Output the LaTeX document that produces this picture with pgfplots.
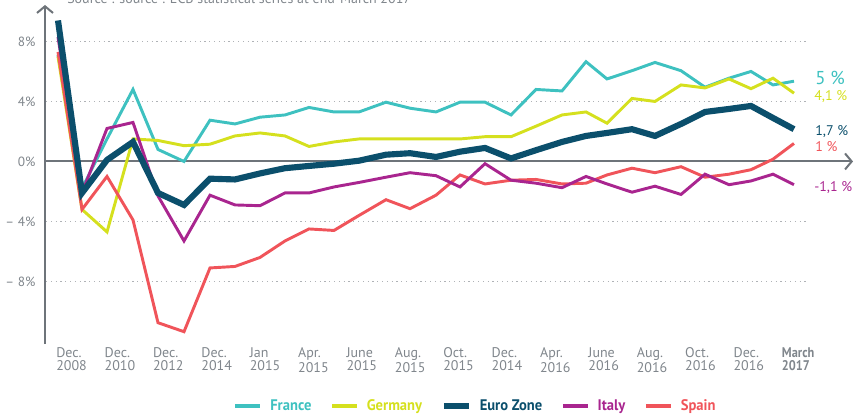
\documentclass[border=0pt]{standalone}
\usepackage{pgfplots}
\pgfplotsset{compat=1.18}
\usepackage{pgfplotstable}
\usetikzlibrary{arrows.meta}
\usepackage{fontspec}
\setmainfont{PT Sans}
\newfontfamily\cond{PT Sans}[FakeStretch=0.88]
\newfontfamily\legf{PT Sans}[FakeStretch=0.95]
\definecolor{cFr}{RGB}{62,193,192}
\definecolor{cDe}{RGB}{213,224,30}
\definecolor{cEz}{RGB}{11,79,108}
\definecolor{cIt}{RGB}{169,37,143}
\definecolor{cEs}{RGB}{240,84,90}
\definecolor{cAx}{RGB}{110,116,122}
\definecolor{cTx}{RGB}{128,134,140}
\definecolor{cGr}{RGB}{175,178,182}
\definecolor{cMa}{RGB}{100,106,112}

\pgfplotstableread{
x   fr    de    ez    it    es
58  7.1   7.0   9.4   8.3   7.3
82  -1.8  -3.2  -2.1  -2.1  -3.2
107 1.5   -4.7  0.1   2.2   -1.0
133 4.8   1.5   1.3   2.6   -3.9
158 0.8   1.4   -2.1  -2.3  -10.75
184 0.0   1.05  -2.9  -5.3  -11.35
210 2.75  1.15  -1.15 -2.25 -7.1
235 2.5   1.7   -1.2  -2.9  -7.0
260 2.95  1.9   -0.8  -2.95 -6.4
285 3.1   1.7   -0.45 -2.1  -5.3
309 3.6   1.0   -0.3  -2.1  -4.5
334 3.3   1.3   -0.15 -1.7  -4.6
359 3.3   1.5   0.05  -1.4  -3.6
386 3.95  1.5   0.45  -1.05 -2.55
410 3.55  1.5   0.55  -0.75 -3.15
436 3.3   1.5   0.3   -0.95 -2.25
460 3.95  1.5   0.65  -1.7  -0.9
485 3.95  1.65  0.9   -0.15 -1.5
511 3.1   1.65  0.2   -1.25 -1.25
536 4.8   2.35  0.75  -1.45 -1.2
562 4.7   3.1   1.3   -1.75 -1.5
586 6.65  3.3   1.7   -1.0  -1.45
607 5.5   2.55  1.9   -1.5  -0.9
632 6.05  4.2   2.15  -2.05 -0.45
655 6.6   4.0   1.7   -1.65 -0.75
681 6.05  5.1   2.5   -2.2  -0.35
705 4.95  4.9   3.3   -0.85 -1.05
729 5.55  5.5   3.5   -1.55 -0.85
751 6.0   4.85  3.7   -1.3  -0.55
773 5.1   5.55  2.9   -0.85 0.15
794 5.35  4.55  2.15  -1.55 1.2
}\datatable

\begin{document}
\begin{tikzpicture}
\useasboundingbox (0,0) rectangle (645pt,310.5pt);
\node[anchor=base west, inner sep=0pt, text=cTx, font=\fontsize{10.5}{12}\selectfont] at (50.25pt,307.5pt) {Source : source : ECB statistical series at end-March 2017};
\begin{axis}[
  at={(33.75pt,52.5pt)}, anchor=south west,
  scale only axis, width=606pt, height=254.25pt,
  xmin=45, xmax=853, ymin=-12.17, ymax=10.43,
  axis x line=bottom, axis y line=left,
  axis line style={draw=none},
  major tick length=0pt,
  clip=false,
  xtick={56,104.38,152.76,201.14,249.52,297.9,346.28,394.66,443.04,491.42,539.8,588.18,636.56,684.94,733.32,781.7},
  xticklabels={{Dec.\\2008},{Dec.\\2010},{Dec.\\2012},{Dec.\\2014},{Jan\\2015},{Apr.\\2015},{June\\2015},{Aug.\\2015},{Oct.\\2015},{Dec.\\2014},{Apr.\\2016},{June\\2016},{Aug.\\2016},{Oct.\\2016},{Dec.\\2016},{{\cond\bfseries March}\\{\cond\bfseries 2017}}},
  xticklabel style={anchor=north west, inner sep=0pt, yshift=-2.8pt, align=left, text=cTx, font=\fontsize{10.5}{9.4}\selectfont},
  ytick={-8,-4,0,4,8},
  yticklabels={{-- 8\%},{-- 4\%},{0\%},{4\%},{8\%}},
  yticklabel style={anchor=east, inner sep=0pt, xshift=-7pt, text=cTx, font=\fontsize{10}{12}\selectfont},
  legend columns=5,
  legend style={at={(0.5316,-0.182)}, anchor=center, draw=none, fill=none, inner sep=0pt,
    nodes={inner sep=0pt},
    font=\legf\bfseries\fontsize{11.5}{13}\selectfont,
    /tikz/every even column/.append style={column sep=14pt},
    /tikz/every odd column/.append style={column sep=6pt}},
  legend image code/.code={\draw[#1] (0pt,0pt) -- (18.75pt,0pt);},
]
\addlegendimage{cFr, line width=2.8pt}\addlegendentry{\textcolor{cFr}{France}}
\addlegendimage{cDe, line width=2.8pt}\addlegendentry{\textcolor{cDe}{Germany}}
\addlegendimage{cEz, line width=4.5pt}\addlegendentry{\textcolor{cEz}{Euro Zone}}
\addlegendimage{cIt, line width=2.8pt}\addlegendentry{\textcolor{cIt}{Italy}}
\addlegendimage{cEs, line width=2.8pt}\addlegendentry{\textcolor{cEs}{Spain}}

\foreach \g in {8,4,-4,-8}{
  \edef\tmp{\noexpand\draw[cGr, line width=0.9pt, dash pattern=on 0.9pt off 2.7pt] (axis cs:46,\g) -- (axis cs:808,\g);}\tmp
}
\draw[cAx, line width=1.5pt, -{Straight Barb[length=5pt,width=12pt]}] (axis cs:45,-12.17) -- (axis cs:45,10.43);
\draw[cAx, line width=1.5pt, -{Straight Barb[length=5pt,width=12pt]}] (axis cs:45,0) -- (axis cs:853,0);

\addplot[cFr, line width=2.2pt, forget plot] table[x=x,y=fr]{\datatable};
\addplot[cDe, line width=2.2pt, forget plot] table[x=x,y=de]{\datatable};
\addplot[cEs, line width=2.2pt, forget plot] table[x=x,y=es]{\datatable};
\addplot[cIt, line width=2.2pt, forget plot] table[x=x,y=it]{\datatable};
\addplot[cEz, line width=4.6pt, miter limit=4, forget plot] table[x=x,y=ez]{\datatable};

\node[anchor=west, inner sep=0pt, text=cFr, font=\fontsize{14}{16}\selectfont] at (axis cs:815,5.55) {5 \%};
\node[anchor=west, inner sep=0pt, text=cDe, font=\fontsize{10.5}{12}\selectfont] at (axis cs:814,4.32) {4,1 \%};
\node[anchor=west, inner sep=0pt, text=cEz, font=\fontsize{10.5}{12}\selectfont] at (axis cs:815,2.01) {1,7 \%};
\node[anchor=west, inner sep=0pt, text=cEs, font=\fontsize{10.5}{12}\selectfont] at (axis cs:815,0.99) {1 \%};
\node[anchor=west, inner sep=0pt, text=cIt, font=\fontsize{10.5}{12}\selectfont] at (axis cs:814,-1.73) {-1,1 \%};
\end{axis}
\end{tikzpicture}
\end{document}
